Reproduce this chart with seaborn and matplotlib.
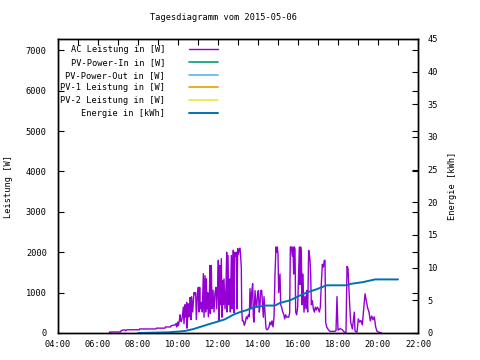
import pandas as pd
import seaborn as sns
import matplotlib
matplotlib.use('Agg')
import matplotlib.pyplot as plt
import matplotlib.dates as mdates
from matplotlib.ticker import MultipleLocator, NullLocator

# Daten
datum = '2015-05-06'

ac_zeit = ['06:34', '06:35', '07:08', '07:09', '07:20', '07:23', '07:26', '08:04', '08:05', '08:54',
           '08:55', '09:21', '09:22', '09:38', '09:39', '09:51', '09:54', '09:56', '09:59', '10:01',
           '10:04', '10:06', '10:08', '10:10', '10:13', '10:16', '10:18', '10:21', '10:23', '10:26',
           '10:27', '10:30', '10:31', '10:33', '10:36', '10:38', '10:39', '10:41', '10:44', '10:48',
           '10:50', '10:53', '10:55', '10:58', '11:01', '11:03', '11:05', '11:07', '11:10', '11:13',
           '11:16', '11:18', '11:21', '11:23', '11:25', '11:27', '11:29', '11:31', '11:34', '11:36',
           '11:37', '11:40', '11:42', '11:45', '11:48', '11:51', '11:54', '11:56', '11:59', '12:01',
           '12:03', '12:05', '12:07', '12:10', '12:12', '12:14', '12:16', '12:18', '12:21', '12:24',
           '12:26', '12:27', '12:30', '12:32', '12:35', '12:37', '12:40', '12:42', '12:44', '12:46',
           '12:48', '12:50', '12:52', '12:55', '12:57', '12:59', '13:01', '13:04', '13:06', '13:08',
           '13:10', '13:11', '13:13', '13:16', '13:19', '13:22', '13:25', '13:28', '13:31', '13:34',
           '13:36', '13:39', '13:41', '13:44', '13:46', '13:48', '13:51', '13:54', '13:56', '13:59',
           '14:01', '14:04', '14:06', '14:08', '14:11', '14:14', '14:16', '14:18', '14:21', '14:24',
           '14:27', '14:30', '14:33', '14:36', '14:39', '14:42', '14:45', '14:48', '14:51', '14:54',
           '14:56', '14:58', '15:00', '15:02', '15:04', '15:06', '15:08', '15:11', '15:14', '15:17',
           '15:20', '15:23', '15:26', '15:29', '15:32', '15:35', '15:37', '15:40', '15:43', '15:45',
           '15:47', '15:49', '15:51', '15:53', '15:56', '15:59', '16:02', '16:04', '16:06', '16:08',
           '16:10', '16:12', '16:14', '16:16', '16:18', '16:21', '16:24', '16:26', '16:29', '16:32',
           '16:34', '16:36', '16:38', '16:40', '16:43', '16:46', '16:49', '16:52', '16:55', '16:58',
           '17:01', '17:04', '17:07', '17:10', '17:13', '17:16', '17:19', '17:21', '17:23', '17:26',
           '17:31', '17:36', '17:51', '17:54', '17:57', '18:00', '18:06', '18:13', '18:19', '18:24',
           '18:27', '18:30', '18:33', '18:35', '18:38', '18:43', '18:49', '18:51', '18:57', '19:01',
           '19:05', '19:09', '19:13', '19:17', '19:21', '19:25', '19:29', '19:33', '19:37', '19:41',
           '19:45', '19:49', '19:53', '19:57', '20:03', '20:09', '20:11']
ac_leistung = [0, 25, 25, 60, 80, 55, 80, 80, 100, 100,
               120, 120, 150, 150, 180, 200, 230, 150, 270, 180,
               300, 450, 330, 280, 400, 640, 230, 700, 390, 760,
               120, 520, 720, 400, 880, 800, 330, 900, 520, 1000,
               950, 1000, 330, 900, 1130, 520, 1130, 600, 760, 520,
               1470, 390, 1420, 520, 1340, 600, 1000, 400, 900, 1674,
               480, 1674, 600, 1060, 520, 1000, 1130, 600, 1130, 1800,
               300, 1674, 700, 1840, 390, 1300, 700, 1340, 600, 1100,
               2000, 520, 1920, 700, 1340, 520, 1920, 600, 1600, 2050,
               500, 2000, 1900, 2000, 600, 2088, 1950, 2088, 2100, 1900,
               1600, 640, 300, 300, 190, 270, 400, 350, 450, 400,
               1100, 600, 1000, 1220, 400, 270, 1050, 700, 640, 1000,
               1050, 517, 700, 1050, 1054, 640, 390, 900, 517, 110,
               80, 100, 150, 270, 200, 300, 150, 390, 1460, 2130,
               2000, 2130, 1960, 1000, 1220, 1460, 700, 640, 520, 470,
               350, 450, 390, 400, 390, 500, 2130, 2130, 1900, 2130,
               1460, 2130, 2080, 520, 450, 640, 1500, 2130, 1200, 2130,
               1960, 700, 1460, 1054, 517, 900, 600, 1054, 520, 2045,
               1960, 1800, 1460, 700, 800, 600, 517, 640, 570, 640,
               600, 520, 640, 1220, 1700, 1630, 1800, 1800, 270, 150,
               80, 40, 40, 60, 900, 70, 110, 80, 20, 20,
               1650, 1600, 1050, 700, 270, 100, 517, 50, 20, 350,
               270, 310, 200, 600, 970, 800, 620, 520, 300, 420,
               330, 400, 150, 40, 20, 5, 0]

e_zeit = ['08:00', '09:30', '10:20', '10:46', '11:11', '11:36', '11:56', '12:21', '12:46', '13:06',
          '13:26', '13:46', '14:21', '14:51', '15:06', '15:36', '16:00', '16:26', '16:56', '17:26',
          '18:26', '18:36', '19:16', '19:51', '21:00']
e_energie = [0.0, 0.1, 0.3, 0.6, 1.0, 1.4, 1.7, 2.1, 2.8, 3.2,
             3.5, 3.9, 4.2, 4.2, 4.6, 5.0, 5.6, 6.2, 6.7, 7.3,
             7.3, 7.5, 7.8, 8.2, 8.2]

serien = ['AC Leistung in [W]', 'PV-Power-In in [W]', 'PV-Power-Out in [W]',
          'PV-1 Leistung in [W]', 'PV-2 Leistung in [W]', 'Energie in [kWh]']
farben = ['#9400d3', '#009e73', '#56b4e9', '#e69f00', '#f0e442', '#0072b2']

sns.set_style('white')
plt.rcParams['font.family'] = ['DejaVu Sans Mono']
plt.rcParams['font.size'] = 6.2
for k in ['text.color', 'axes.labelcolor', 'xtick.color', 'ytick.color', 'axes.edgecolor']:
    plt.rcParams[k] = 'black'

df_ac = pd.DataFrame({'zeit': pd.to_datetime([datum + ' ' + t for t in ac_zeit]), 'leistung': ac_leistung})
df_e = pd.DataFrame({'zeit': pd.to_datetime([datum + ' ' + t for t in e_zeit]), 'energie': e_energie})

fig = plt.figure(figsize=(4.8, 3.6), dpi=100)
ax = fig.add_axes([58 / 480, 1 - 333 / 360, 360 / 480, 294 / 360])
ax2 = ax.twinx()

sns.lineplot(data=df_ac, x='zeit', y='leistung', ax=ax, color=farben[0], lw=1.0, legend=False)
for c in farben[1:5]:
    ax.plot([], [], color=c, lw=1.2)
sns.lineplot(data=df_e, x='zeit', y='energie', ax=ax2, color=farben[5], lw=1.4, legend=False)

# achsen
ax.set_xlim(pd.Timestamp(datum + ' 04:00'), pd.Timestamp(datum + ' 22:00'))
ax.xaxis.set_major_locator(mdates.HourLocator(byhour=range(0, 24, 2)))
ax.xaxis.set_minor_locator(mdates.HourLocator())
ax.xaxis.set_major_formatter(mdates.DateFormatter('%H:%M'))
ax.set_ylim(0, 7280)
ax.yaxis.set_major_locator(MultipleLocator(1000))
ax.yaxis.set_minor_locator(NullLocator())
ax2.set_ylim(0, 45)
ax2.yaxis.set_major_locator(MultipleLocator(5))
ax2.yaxis.set_minor_locator(NullLocator())

ax.tick_params(which='both', direction='in', top=True, right=True, labelright=False, width=0.8, length=4)
ax.tick_params(axis='y', pad=8)
ax.tick_params(axis='x', pad=5)
ax2.tick_params(axis='y', direction='in', length=4, width=0.8, pad=7)

for a in (ax, ax2):
    for s in a.spines.values():
        s.set_color('black')
        s.set_linewidth(1.0)

ax.set_xlabel('')
ax.set_ylabel('Leistung [W]', labelpad=9)
ax2.set_ylabel('Energie [kWh]', labelpad=7)

fig.text(224 / 480, 1 - 18 / 360, 'Tagesdiagramm vom ' + datum, ha='center', va='center')

handles = ax.get_lines()[:5] + ax2.get_lines()[:1]
ax.legend(handles, serien, loc='upper left', bbox_to_anchor=(0.006, 0.978), frameon=False,
          markerfirst=False, handlelength=3.3, handletextpad=2.8, labelspacing=0.42,
          borderpad=0, borderaxespad=0, fontsize=6.2)

fig.savefig('out.png', dpi=100)
